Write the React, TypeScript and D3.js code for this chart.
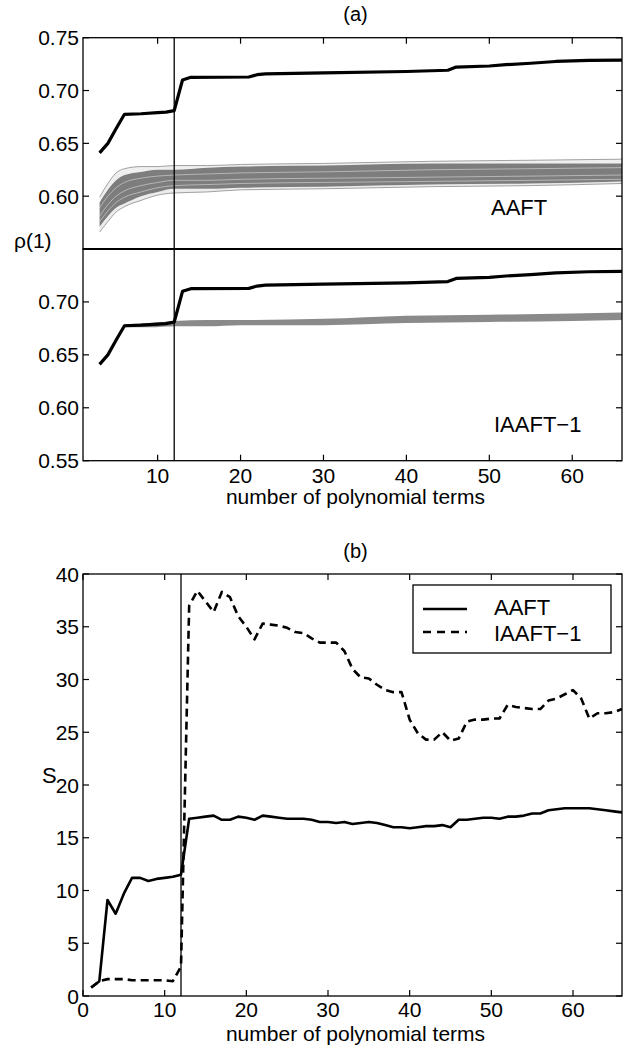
import React from "react";
import * as d3 from "d3";

// ---------- data ----------
// panel (a): rho(1) of the original series vs number of polynomial terms
const rhoTerms = [3, 4, 5, 6, 8, 10, 11, 12, 13, 14, 21, 22, 23, 30, 40, 45, 46, 50, 52, 55, 58, 62, 66];
const rhoOriginal = [0.641, 0.650, 0.664, 0.6775, 0.678, 0.679, 0.6795, 0.681, 0.710, 0.7125, 0.7128, 0.715, 0.7158, 0.7168, 0.718, 0.7192, 0.7222, 0.7232, 0.7245, 0.7258, 0.7275, 0.7285, 0.7288];

// AAFT surrogate ensemble (band)
const aaftTerms = [3, 4, 5, 6, 8, 10, 12, 16, 20, 30, 43, 55, 66];
const aaftOuterTop = [0.599, 0.612, 0.622, 0.626, 0.628, 0.628, 0.629, 0.629, 0.630, 0.631, 0.633, 0.634, 0.635];
const aaftDenseTop = [0.594, 0.606, 0.615, 0.620, 0.623, 0.625, 0.625, 0.627, 0.628, 0.629, 0.631, 0.631, 0.631];
const aaftDenseBottom = [0.571, 0.581, 0.589, 0.593, 0.600, 0.604, 0.607, 0.607, 0.608, 0.609, 0.611, 0.612, 0.614];
const aaftOuterBottom = [0.566, 0.576, 0.585, 0.590, 0.596, 0.601, 0.603, 0.604, 0.606, 0.607, 0.609, 0.610, 0.612];
const aaftStreakA = [0.589, 0.600, 0.608, 0.613, 0.617, 0.619, 0.620, 0.621, 0.622, 0.623, 0.625, 0.626, 0.627];
const aaftStreakB = [0.581, 0.592, 0.600, 0.605, 0.610, 0.613, 0.615, 0.615, 0.616, 0.617, 0.618, 0.619, 0.620];
const aaftStreakC = [0.576, 0.586, 0.594, 0.599, 0.604, 0.608, 0.610, 0.611, 0.612, 0.613, 0.614, 0.615, 0.616];

// IAAFT-1 surrogate ensemble
const iaaftTerms = [6, 9, 12, 16, 20, 30, 40, 50, 60, 66];
const iaaftLow = [0.676, 0.676, 0.677, 0.677, 0.678, 0.678, 0.680, 0.681, 0.682, 0.683];
const iaaftHigh = [0.679, 0.680, 0.682, 0.683, 0.683, 0.684, 0.687, 0.688, 0.689, 0.690];

const rhoTicksUpper = [0.60, 0.65, 0.70, 0.75];
const rhoTicksLower = [0.55, 0.60, 0.65, 0.70];
const termTicksA = [10, 20, 30, 40, 50, 60];
const cutoffTerm = 12;

// panel (b): S vs number of polynomial terms
const sTerms = d3.range(1, 67);
const sAAFT = [0.8, 1.4, 9.1, 7.8, 9.7, 11.2, 11.2, 10.9, 11.1, 11.2, 11.3, 11.5,
  16.8, 16.9, 17.0, 17.1, 16.7, 16.7, 17.0, 16.9, 16.7, 17.1,
  17.0, 16.9, 16.8, 16.8, 16.8, 16.7, 16.5, 16.5, 16.4, 16.5,
  16.3, 16.4, 16.5, 16.4, 16.2, 16.0, 16.0, 15.9, 16.0, 16.1,
  16.1, 16.2, 16.0, 16.7, 16.7, 16.8, 16.9, 16.9, 16.8, 17.0,
  17.0, 17.1, 17.3, 17.3, 17.6, 17.7, 17.8, 17.8, 17.8, 17.8,
  17.7, 17.6, 17.5, 17.4];
const sIAAFT = [0.8, 1.4, 1.6, 1.6, 1.6, 1.5, 1.5, 1.5, 1.5, 1.5, 1.4, 2.8,
  37.0, 38.4, 37.4, 36.4, 38.3, 37.8, 36.0, 35.0, 33.8, 35.3,
  35.2, 35.1, 34.9, 34.5, 34.4, 33.9, 33.5, 33.5, 33.5, 32.7,
  31.0, 30.2, 30.1, 29.5, 29.0, 28.8, 28.8, 26.2, 24.9, 24.3,
  24.3, 25.0, 24.2, 24.4, 26.0, 26.2, 26.2, 26.3, 26.3, 27.6,
  27.4, 27.3, 27.2, 27.2, 28.0, 28.2, 28.6, 29.0, 28.2, 26.3,
  26.8, 26.8, 26.9, 27.2];
const sTicks = [0, 5, 10, 15, 20, 25, 30, 35, 40];
const termTicksB = [0, 10, 20, 30, 40, 50, 60];
const legendLabels = ["AAFT", "IAAFT\u22121"];

// ---------- layout ----------
const W = 631, H = 1048;
const FONT = "'Liberation Sans', Arial, Helvetica, sans-serif";
const L = 83, R = 622;
const aTop = 37.7, aMid = 249, aBot = 460.7;
const bTop = 574, bBot = 996;
const TICK = 6;

export default function App() {
  const xA = d3.scaleLinear().domain([1, 66]).range([L, R]);
  const yAU = d3.scaleLinear().domain([0.55, 0.75]).range([aMid, aTop]);
  const yAL = d3.scaleLinear().domain([0.55, 0.75]).range([aBot, aMid]);
  const xB = d3.scaleLinear().domain([0, 66]).range([L, R]);
  const yB = d3.scaleLinear().domain([0, 40]).range([bBot, bTop]);

  const lineOf = (xs: number[], ys: number[], xs_: any, ys_: any, curve: any = d3.curveLinear) =>
    d3.line<number>().x((_, i) => xs_(xs[i])).y((d) => ys_(d)).curve(curve)(ys) || "";
  const areaOf = (xs: number[], lo: number[], hi: number[], ys_: any) =>
    d3.area<number>().x((_, i) => xA(xs[i])).y0((d) => ys_(d)).y1((_, i) => ys_(hi[i])).curve(d3.curveMonotoneX)(lo) || "";

  const txt = { fontFamily: FONT, fill: "#000" } as const;

  const frame = (x0: number, y0: number, x1: number, y1: number, key: string) => (
    <rect key={key} x={x0} y={y0} width={x1 - x0} height={y1 - y0} fill="none" stroke="#000" strokeWidth={1.3} />
  );

  return (
    <svg width={W} height={H} style={{ position: "absolute", left: 0, top: 0, background: "#fff" }}>
      <defs>
        <clipPath id="clipAU"><rect x={L} y={aTop} width={R - L} height={aMid - aTop} /></clipPath>
        <clipPath id="clipAL"><rect x={L} y={aMid} width={R - L} height={aBot - aMid} /></clipPath>
        <clipPath id="clipB"><rect x={L} y={bTop} width={R - L} height={bBot - bTop} /></clipPath>
      </defs>
      <rect x={0} y={0} width={W} height={H} fill="#fff" />

      {/* ---------------- panel (a) ---------------- */}
      <text x={(L + R) / 2 + 3} y={21} fontSize={20} textAnchor="middle" {...txt}>(a)</text>

      {/* upper subpanel: AAFT */}
      <g clipPath="url(#clipAU)">
        <path d={areaOf(aaftTerms, aaftOuterBottom, aaftDenseBottom, yAU)} fill="#ececec" />
        <path d={areaOf(aaftTerms, aaftDenseTop, aaftOuterTop, yAU)} fill="#efefef" />
        <path d={areaOf(aaftTerms, aaftDenseBottom, aaftDenseTop, yAU)} fill="#7d7d7d" />
        {[aaftStreakA, aaftStreakB, aaftStreakC].map((s, i) => (
          <path key={i} d={lineOf(aaftTerms, s, xA, yAU, d3.curveMonotoneX)} fill="none" stroke="#fff" strokeOpacity={0.55} strokeWidth={0.8} />
        ))}
        {[aaftOuterTop, aaftOuterBottom].map((s, i) => (
          <path key={"o" + i} d={lineOf(aaftTerms, s, xA, yAU, d3.curveMonotoneX)} fill="none" stroke="#8a8a8a" strokeWidth={0.8} />
        ))}
        <path d={lineOf(rhoTerms, rhoOriginal, xA, yAU)} fill="none" stroke="#000" strokeWidth={3.2} strokeLinejoin="round" />
      </g>

      {/* lower subpanel: IAAFT-1 */}
      <g clipPath="url(#clipAL)">
        <path d={areaOf(iaaftTerms, iaaftLow, iaaftHigh, yAL)} fill="#8a8a8a" />
        <path d={lineOf(rhoTerms, rhoOriginal, xA, yAL)} fill="none" stroke="#000" strokeWidth={3.2} strokeLinejoin="round" />
      </g>

      {/* cutoff line */}
      <line x1={xA(cutoffTerm)} x2={xA(cutoffTerm)} y1={aTop} y2={aBot} stroke="#000" strokeWidth={1.3} />

      {frame(L, aTop, R, aMid, "fu")}
      {frame(L, aMid, R, aBot, "fl")}
      <line x1={L} x2={R} y1={aMid} y2={aMid} stroke="#000" strokeWidth={2.2} />

      {/* ticks panel a */}
      {termTicksA.map((t) => (
        <g key={"ta" + t}>
          <line x1={xA(t)} x2={xA(t)} y1={aTop} y2={aTop + TICK} stroke="#000" strokeWidth={1.2} />
          <line x1={xA(t)} x2={xA(t)} y1={aBot} y2={aBot - TICK} stroke="#000" strokeWidth={1.2} />
          <text x={xA(t)} y={483} fontSize={21} textAnchor="middle" {...txt}>{t}</text>
        </g>
      ))}
      {rhoTicksUpper.map((v) => (
        <g key={"ru" + v}>
          <line x1={L} x2={L + TICK} y1={yAU(v)} y2={yAU(v)} stroke="#000" strokeWidth={1.2} />
          <line x1={R} x2={R - TICK} y1={yAU(v)} y2={yAU(v)} stroke="#000" strokeWidth={1.2} />
          <text x={L - 4} y={yAU(v) + 7.5} fontSize={21} textAnchor="end" {...txt}>{v.toFixed(2)}</text>
        </g>
      ))}
      {rhoTicksLower.map((v) => (
        <g key={"rl" + v}>
          <line x1={L} x2={L + TICK} y1={yAL(v)} y2={yAL(v)} stroke="#000" strokeWidth={1.2} />
          <line x1={R} x2={R - TICK} y1={yAL(v)} y2={yAL(v)} stroke="#000" strokeWidth={1.2} />
          <text x={L - 4} y={yAL(v) + 7.5} fontSize={21} textAnchor="end" {...txt}>{v.toFixed(2)}</text>
        </g>
      ))}
      <text x={14} y={248} fontSize={21} {...txt}>ρ(1)</text>
      <text x={491} y={215} fontSize={22} {...txt}>AAFT</text>
      <text x={494} y={432} fontSize={22} {...txt}>{"IAAFT\u22121"}</text>
      <text x={(L + R) / 2 + 3} y={504} fontSize={21} textAnchor="middle" {...txt}>number of polynomial terms</text>

      {/* ---------------- panel (b) ---------------- */}
      <text x={(L + R) / 2 + 3} y={558} fontSize={20} textAnchor="middle" {...txt}>(b)</text>
      <g clipPath="url(#clipB)">
        <path d={lineOf(sTerms, sAAFT, xB, yB)} fill="none" stroke="#000" strokeWidth={2.6} strokeLinejoin="round" />
        <path d={lineOf(sTerms, sIAAFT, xB, yB)} fill="none" stroke="#000" strokeWidth={2.6} strokeDasharray="8,5" strokeLinejoin="round" />
      </g>
      <line x1={xB(cutoffTerm)} x2={xB(cutoffTerm)} y1={bTop} y2={bBot} stroke="#000" strokeWidth={1.3} />
      {frame(L, bTop, R, bBot, "fb")}
      {termTicksB.map((t) => (
        <g key={"tb" + t}>
          <line x1={xB(t)} x2={xB(t)} y1={bTop} y2={bTop + TICK} stroke="#000" strokeWidth={1.2} />
          <line x1={xB(t)} x2={xB(t)} y1={bBot} y2={bBot - TICK} stroke="#000" strokeWidth={1.2} />
          <text x={xB(t)} y={1017} fontSize={21} textAnchor="middle" {...txt}>{t}</text>
        </g>
      ))}
      {sTicks.map((v) => (
        <g key={"sb" + v}>
          <line x1={L} x2={L + TICK} y1={yB(v)} y2={yB(v)} stroke="#000" strokeWidth={1.2} />
          <line x1={R} x2={R - TICK} y1={yB(v)} y2={yB(v)} stroke="#000" strokeWidth={1.2} />
          <text x={L - 4} y={yB(v) + 7.5} fontSize={21} textAnchor="end" {...txt}>{v}</text>
        </g>
      ))}
      <text x={42} y={783} fontSize={22} {...txt}>S</text>
      <text x={(L + R) / 2 + 3} y={1041} fontSize={21} textAnchor="middle" {...txt}>number of polynomial terms</text>

      {/* legend */}
      <rect x={413} y={585} width={198} height={68} fill="#fff" stroke="#000" strokeWidth={1.3} />
      <line x1={423} x2={467} y1={609} y2={609} stroke="#000" strokeWidth={2.6} />
      <line x1={423} x2={467} y1={632} y2={632} stroke="#000" strokeWidth={2.6} strokeDasharray="8,6" />
      <text x={494} y={615} fontSize={22} {...txt}>{legendLabels[0]}</text>
      <text x={494} y={641} fontSize={22} {...txt}>{legendLabels[1]}</text>
    </svg>
  );
}
